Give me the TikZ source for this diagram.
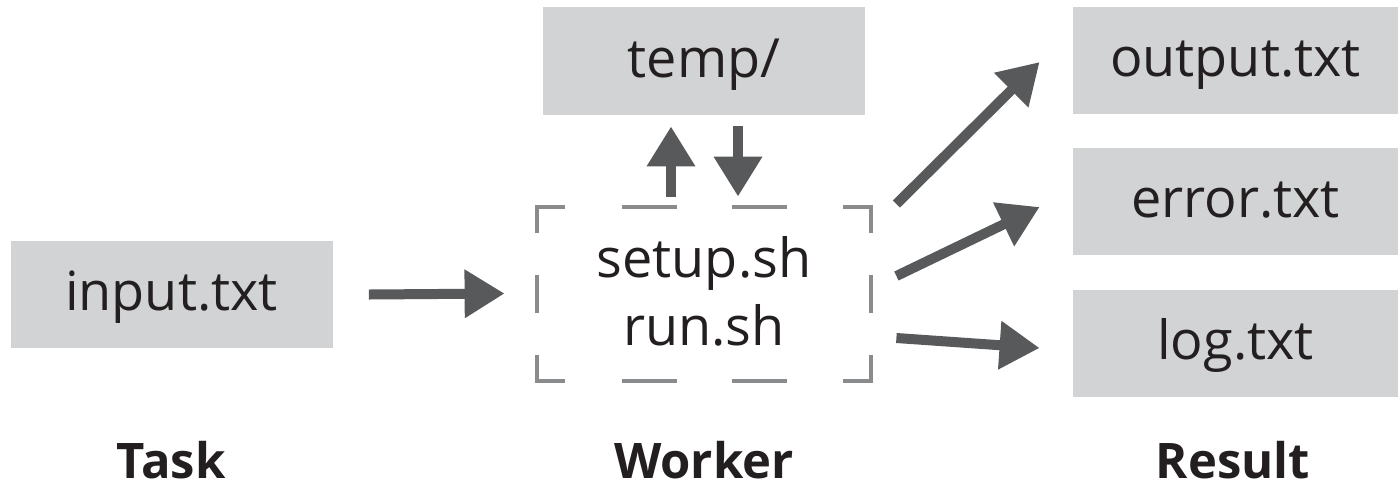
\documentclass[tikz,border=0pt]{standalone}
\usepackage{fontspec}
\setmainfont{Open Sans}
\usetikzlibrary{arrows.meta}
\definecolor{boxgray}{HTML}{D1D3D4}
\definecolor{arrowgray}{HTML}{58595B}
\definecolor{dashgray}{HTML}{8A8B8D}
\definecolor{ink}{HTML}{231F20}
\begin{document}
\begin{tikzpicture}[x=0.5pt,y=-0.5pt,
  filebox/.style={fill=boxgray, inner sep=0pt, minimum height=53.5pt, text=ink,
    font=\fontsize{27pt}{32pt}\selectfont, text height=20pt, text depth=4pt},
  txt/.style={text=ink, inner sep=0pt, anchor=base, font=\fontsize{27pt}{32pt}\selectfont},
  lab/.style={text=ink, inner sep=0pt, anchor=base, font=\bfseries\fontsize{24.5pt}{28pt}\selectfont},
  arr/.style={draw=arrowgray, line width=5pt, -{Triangle[length=20pt,width=23pt]}},
  dashseg/.style={draw=dashgray, line width=2pt, line cap=butt, line join=miter}
]
\useasboundingbox (0,0) rectangle (1398,484);

% file boxes
\node[filebox, minimum width=161pt] (input) at (171.5,294.5) {input.txt};
\node[filebox, minimum width=161pt, minimum height=54pt] (temp) at (704,61) {temp/};
\node[filebox, minimum width=162.5pt] (output) at (1235.5,60) {output.txt};
\node[filebox, minimum width=162.5pt] (error) at (1235.5,201.5) {error.txt};
\node[filebox, minimum width=162.5pt] (log) at (1235.5,343.5) {log.txt};

% worker frame
\node[inner sep=0pt, minimum width=167pt, minimum height=87pt] (worker) at (704,294) {};
\node[txt] (setup) at ([yshift=8.5pt]worker.center) {setup.sh};
\node[txt] (run) at ([yshift=-25.5pt]worker.center) {run.sh};

% dashed border pieces
\draw[dashseg] ([yshift=-13pt]worker.north west) -- (worker.north west) -- ([xshift=14pt]worker.north west);
\draw[dashseg] ([yshift=-13pt]worker.north east) -- (worker.north east) -- ([xshift=-14pt]worker.north east);
\draw[dashseg] ([yshift=13pt]worker.south west) -- (worker.south west) -- ([xshift=14pt]worker.south west);
\draw[dashseg] ([yshift=13pt]worker.south east) -- (worker.south east) -- ([xshift=-14pt]worker.south east);
\draw[dashseg] ([xshift=-41.25pt]worker.north) -- ([xshift=-13.75pt]worker.north);
\draw[dashseg] ([xshift=13.75pt]worker.north) -- ([xshift=41.25pt]worker.north);
\draw[dashseg] ([xshift=-41.25pt]worker.south) -- ([xshift=-13.75pt]worker.south);
\draw[dashseg] ([xshift=13.75pt]worker.south) -- ([xshift=41.25pt]worker.south);
\draw[dashseg] ([yshift=9.5pt]worker.west) -- ([yshift=-9.5pt]worker.west);
\draw[dashseg] ([yshift=9.5pt]worker.east) -- ([yshift=-9.5pt]worker.east);

% arrows
\draw[arr] ([xshift=18pt]input.east) -- ([xshift=-16pt,yshift=0.25pt]worker.west);
\draw[arr] ([xshift=-16.5pt,yshift=5pt]worker.north) -- ([xshift=-16.5pt,yshift=-5.5pt]temp.south);
\draw[arr] ([xshift=17pt,yshift=-5.5pt]temp.south) -- ([xshift=17pt,yshift=5pt]worker.north);
\draw[arr] ([xshift=12.5pt,yshift=45pt]worker.east) -- ([xshift=-16.5pt,yshift=-1pt]output.west);
\draw[arr] ([xshift=12.5pt,yshift=9pt]worker.east) -- ([xshift=-16.5pt,yshift=-2.75pt]error.west);
\draw[arr] ([xshift=12.5pt,yshift=-22pt]worker.east) -- ([xshift=-16.5pt,yshift=-2.25pt]log.west);

% column labels
\node[lab] (task) at (171,478) {Task};
\node[lab] (workerlab) at (704,478) {Worker};
\node[lab] (result) at (1233,478) {Result};
\end{tikzpicture}
\end{document}
